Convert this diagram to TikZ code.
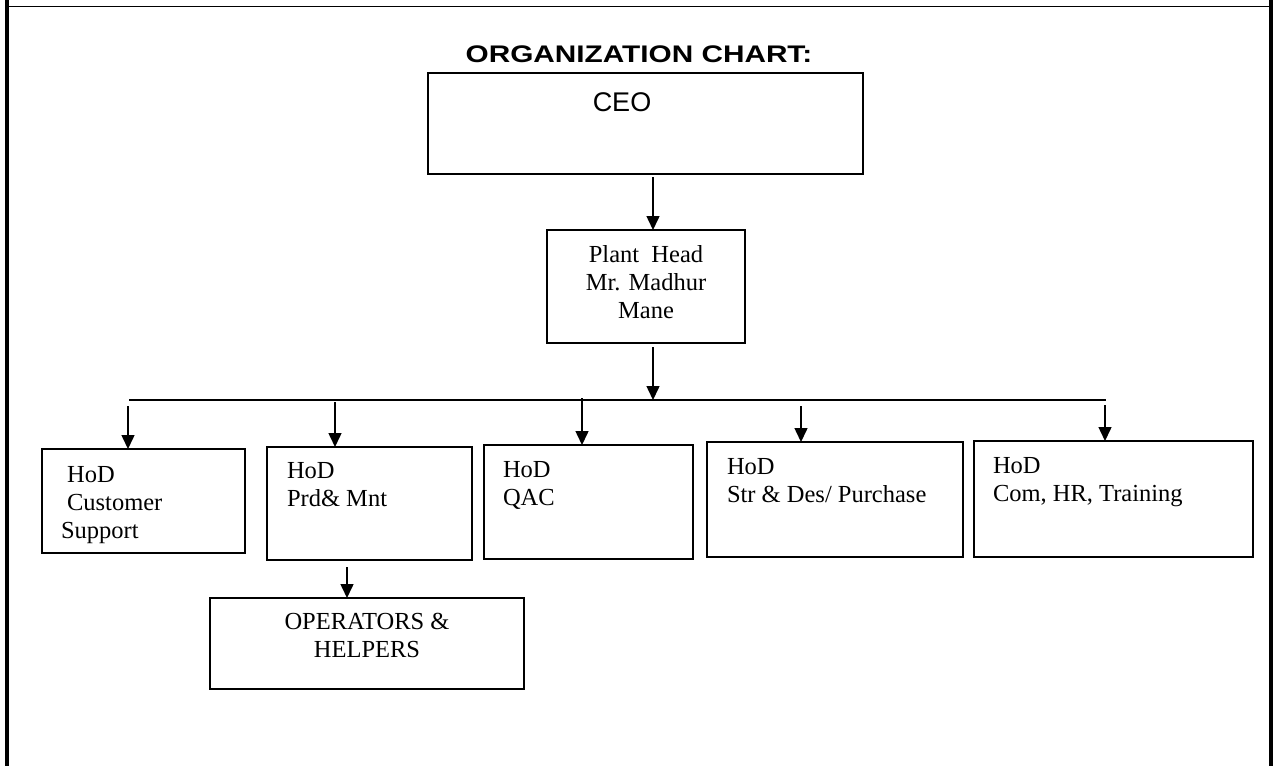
\documentclass[tikz,border=0pt]{standalone}
\usepackage{fontspec}
\setmainfont{Liberation Serif}
\newfontfamily\arialfont{Liberation Sans}
\usetikzlibrary{arrows.meta,calc}
\begin{document}
\begin{tikzpicture}[x=1pt,y=-1pt,
  box/.style={draw, line width=1.8pt, rectangle, inner sep=0pt, outer sep=0pt, anchor=north west},
  lbl/.style={inner sep=0pt, outer sep=0pt, font=\fontsize{24.5}{28}\selectfont},
  arr/.style={line width=1.5pt, -{Triangle[length=14pt,width=13pt]}},
  frame/.style={line width=4pt}]
\useasboundingbox[fill=white] (0,0) rectangle (1274,766);
% page frame
\draw[frame] (7,0) -- (7,766);
\draw[frame] (1271,0) -- (1271,766);
\draw[line width=1pt] (9,6) -- (1269,6);
% title
\node[inner sep=0pt, anchor=base] (ttl) at (639,62)
  {\arialfont\bfseries\fontsize{24}{28}\selectfont\scalebox{1.24}[1]{ORGANIZATION CHART:}};
% boxes
\node[box, minimum width=435pt, minimum height=101pt] (ceo) at (428,73) {};
\node[box, minimum width=198pt, minimum height=113pt] (plant) at (547,230) {};
\node[box, minimum width=203pt, minimum height=104pt] (cs) at (42,449) {};
\node[box, minimum width=205pt, minimum height=113pt] (prd) at (267,447) {};
\node[box, minimum width=209pt, minimum height=114pt] (qac) at (484,445) {};
\node[box, minimum width=256pt, minimum height=115pt] (str) at (707,442) {};
\node[box, minimum width=279pt, minimum height=116pt] (com) at (974,441) {};
\node[box, minimum width=314pt, minimum height=91pt] (ops) at (210,598) {};
% texts
\node[inner sep=0pt, anchor=base] (ceotxt) at (622,111) {\arialfont\fontsize{27}{30}\selectfont CEO};
\node[lbl, anchor=base] (planttxt) at (646,262)
  {\begin{tabular}[t]{@{}c@{}}Plant\ \ Head\\Mr. Madhur\\Mane\end{tabular}};
\node[lbl, anchor=base west] (cstxt) at (61,482)
  {\begin{tabular}[t]{@{}l@{}}\ HoD\\\ Customer\\Support\end{tabular}};
\node[lbl, anchor=base west] (prdtxt) at (287,478)
  {\begin{tabular}[t]{@{}l@{}}HoD\\Prd\&\ Mnt\end{tabular}};
\node[lbl, anchor=base west] (qactxt) at (503,477)
  {\begin{tabular}[t]{@{}l@{}}HoD\\QAC\end{tabular}};
\node[lbl, anchor=base west] (strtxt) at (727,474)
  {\begin{tabular}[t]{@{}l@{}}HoD\\Str \& Des/ Purchase\end{tabular}};
\node[lbl, anchor=base west] (comtxt) at (993,473)
  {\begin{tabular}[t]{@{}l@{}}HoD\\Com, HR, Training\end{tabular}};
\node[lbl, anchor=base] (opstxt) at (367,629)
  {\begin{tabular}[t]{@{}c@{}}OPERATORS \&\\HELPERS\end{tabular}};
% connectors
\coordinate (busL) at (129,400);
\coordinate (busR) at (1106,400);
\draw[line width=2.2pt] (busL) -- (busR);
\draw[arr] (653,177) -- (653,0 |- plant.north);
\draw[arr] (653,347) -- (653,0 |- busL);
\draw[arr] (128,406) -- (128,0 |- cs.north);
\draw[arr] (335,402) -- (335,0 |- prd.north);
\draw[arr] (582,398) -- (582,0 |- qac.north);
\draw[arr] (801,406) -- (801,0 |- str.north);
\draw[arr] (1105,405) -- (1105,0 |- com.north);
\draw[arr] (347,567) -- (347,0 |- ops.north);
\end{tikzpicture}
\end{document}
